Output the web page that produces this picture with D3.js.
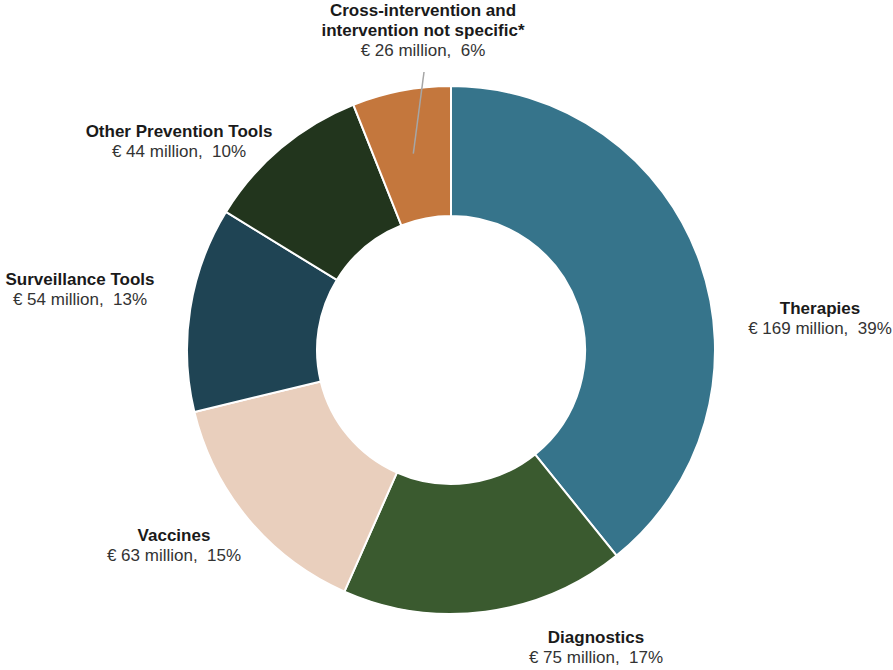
<!DOCTYPE html>
<html>
<head>
<meta charset="utf-8">
<script src="https://cdn.jsdelivr.net/npm/d3@7"></script>
<style>
  html, body { margin: 0; padding: 0; background: #fff; }
  svg { display: block; }
  text { font-family: "Liberation Sans", Arial, sans-serif; white-space: pre; }
</style>
</head>
<body>
<svg id="chart" width="893" height="670"></svg>
<script>
// Funding by intervention type (€ million)
const categories = [
  "Therapies",
  "Diagnostics",
  "Vaccines",
  "Surveillance Tools",
  "Other Prevention Tools",
  "Cross-intervention and|intervention not specific*"
];
const values = [169, 75, 63, 54, 44, 26];
const percentLabels = ["39%", "17%", "15%", "13%", "10%", "6%"];
const colors = ["#36748b", "#3a5a2f", "#e9cfbd", "#1f4454", "#22351d", "#c4773d"];

// Label anchor points (centre of the first text line)
const labelAnchors = [
  [820, 308], [596, 637], [174, 535], [80, 279], [179, 131], [423, 10]
];

const svg = d3.select("#chart");
const cx = 451, cy = 350, outerR = 264, innerR = 134;

const pie = d3.pie().value(d => d).sort(null);
const arcs = pie(values);
const arc = d3.arc().innerRadius(innerR).outerRadius(outerR);

const g = svg.append("g").attr("transform", `translate(${cx},${cy})`);

g.selectAll("path")
  .data(arcs)
  .join("path")
  .attr("d", arc)
  .attr("fill", (d, i) => colors[i])
  .attr("stroke", "#fff")
  .attr("stroke-width", 2);

// Leader line for the smallest slice
const small = arcs[5];
const leaderArc = d3.arc().innerRadius(200).outerRadius(200);
const [lx, ly] = leaderArc.centroid(small);
svg.append("line")
  .attr("x1", cx + lx).attr("y1", cy + ly)
  .attr("x2", 424).attr("y2", 72)
  .attr("stroke", "#a6a6a6")
  .attr("stroke-width", 1.5);

// Labels
const lineH = 20;
categories.forEach((cat, i) => {
  const [x, y] = labelAnchors[i];
  const lines = cat.split("|");
  const t = svg.append("text")
    .attr("text-anchor", "middle")
    .attr("font-size", 17);
  lines.forEach((ln, k) => {
    t.append("tspan")
      .attr("x", x).attr("y", y + k * lineH)
      .attr("dy", "0.35em")
      .attr("font-weight", "bold")
      .attr("fill", "#1a1a1a")
      .text(ln);
  });
  t.append("tspan")
    .attr("x", x).attr("y", y + lines.length * lineH)
    .attr("dy", "0.35em")
    .attr("fill", "#333")
    .text(`€ ${values[i]} million,  ${percentLabels[i]}`);
});
</script>
</body>
</html>
